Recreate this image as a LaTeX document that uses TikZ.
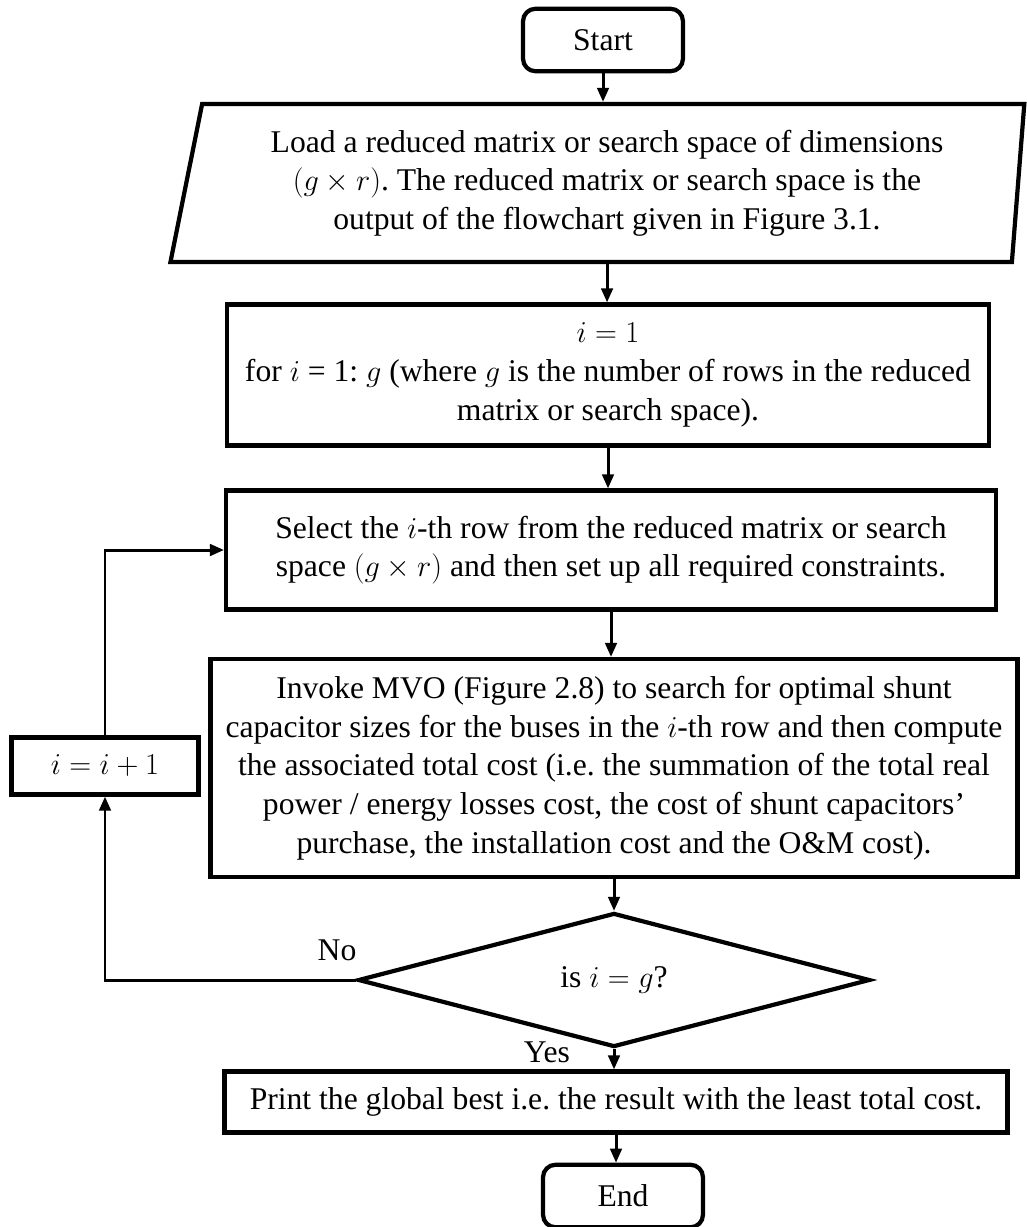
\documentclass[tikz,border=0pt]{standalone}
\usepackage{fontspec}
\setmainfont{Liberation Serif}
\usetikzlibrary{arrows.meta,shapes.geometric}
\frenchspacing

\begin{document}
\begin{tikzpicture}[
  x=0.02cm, y=-0.02cm,
  font=\fontsize{18}{22}\selectfont,
  box/.style={draw, line width=2.4pt, rectangle, align=center, inner sep=2pt},
  term/.style={box, rounded corners=0.25cm, minimum width=3.2cm, minimum height=1.25cm},
  io/.style={draw, line width=2.4pt, trapezium, trapezium left angle=75, trapezium right angle=96, trapezium stretches body, align=center},
  decision/.style={draw, line width=2.4pt, diamond, inner sep=0pt, minimum width=10.24cm, minimum height=2.48cm},
  arr/.style={-{Triangle[length=2.8mm,width=2.3mm]}, line width=1.7pt}
]
\useasboundingbox (0,0) rectangle (1027,1227);

\node[term] (start) at (603,40) {Start};
\node[io, minimum width=17.08cm, minimum height=3.16cm] (load) at (607,183) {Load a reduced matrix or search space of dimensions\\$(g\times r)$. The reduced matrix or search space is the\\output of the flowchart given in Figure 3.1.};
\node[box, minimum width=15.24cm, minimum height=2.82cm] (init) at (608,375) {$i = 1$\\for $i$ = 1: $g$ (where $g$ is the number of rows in the reduced\\matrix or search space).};
\node[box, minimum width=15.4cm, minimum height=2.38cm] (select) at (611,550) {Select the $i$-th row from the reduced matrix or search\\space $(g\times r)$ and then set up all required constraints.};
\node[box, minimum width=16.14cm, minimum height=4.36cm] (invoke) at (614,768) {Invoke MVO (Figure 2.8) to search for optimal shunt\\capacitor sizes for the buses in the $i$-th row and then compute\\the associated total cost (i.e. the summation of the total real\\power / energy losses cost, the cost of shunt capacitors’\\purchase, the installation cost and the O\&M cost).};
\node[box, minimum width=3.74cm, minimum height=1.14cm] (incr) at (105,766) {$i = i + 1$};
\node[decision] (check) at (614,980) {is $i = g$?};
\node[box, minimum width=15.66cm, minimum height=1.22cm] (print) at (616,1102) {Print the global best i.e. the result with the least total cost.};
\node[term] (stop) at (623,1196) {End};
\node (no) at (337,950) {No};
\node (yes) at (547,1052) {Yes};

\draw[arr] (start.south) -- (start.south |- load.north);
\draw[arr] (load.south) -- (load.south |- init.north);
\draw[arr] (init.south) -- (init.south |- select.north);
\draw[arr] (select.south) -- (select.south |- invoke.north);
\draw[arr] (invoke.south) -- (invoke.south |- check.north);
\draw[arr] (check.south) -- (check.south |- print.north);
\draw[arr] (print.south) -- (print.south |- stop.north);
\draw[arr] (check.west) -| (incr.south);
\draw[arr] (incr.north) |- (select.west);
\end{tikzpicture}
\end{document}
